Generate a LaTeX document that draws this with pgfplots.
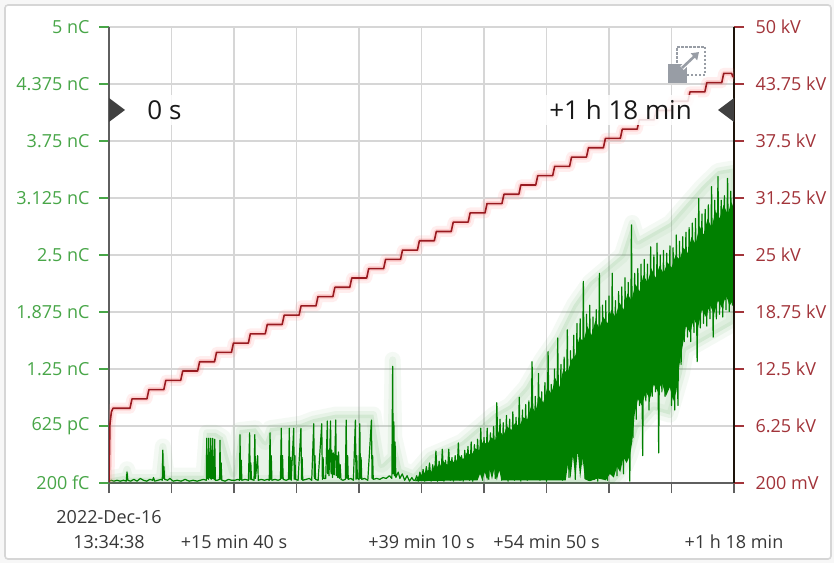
\documentclass[border=0pt]{standalone}
\usepackage{pgfplots}
\pgfplotsset{compat=1.18}
\usepackage{pgfplotstable}
\usetikzlibrary{arrows.meta}
\usepackage{fontspec}
\setmainfont{Open Sans}

\definecolor{qgreen}{RGB}{0,128,0}
\definecolor{qlabel}{RGB}{72,166,72}
\definecolor{vred}{RGB}{152,26,32}
\definecolor{vlabel}{RGB}{162,52,58}
\definecolor{gridgray}{RGB}{214,214,214}
\definecolor{axisgray}{RGB}{95,95,95}
\definecolor{icongray}{RGB}{152,157,165}

% apparent charge (nC) against time since start (min)
\pgfplotstableread{
t q
0.00 0.02
0.30 0.03
0.60 0.02
1.00 0.03
1.40 0.02
1.80 0.03
2.15 0.02
2.25 0.12
2.35 0.03
2.70 0.02
3.10 0.04
3.50 0.02
3.90 0.05
4.30 0.03
4.70 0.02
5.10 0.04
5.45 0.03
5.55 0.06
5.70 0.02
6.10 0.03
6.50 0.04
6.65 0.03
6.72 0.36
6.78 0.05
6.85 0.18
6.95 0.04
7.30 0.03
7.60 0.05
8.00 0.02
8.50 0.03
9.00 0.02
9.50 0.04
10.00 0.02
10.50 0.03
11.00 0.02
11.40 0.03
11.80 0.04
12.15 0.03
12.20 0.49
12.27 0.05
12.33 0.25
12.40 0.04
12.45 0.49
12.52 0.06
12.58 0.25
12.64 0.05
12.70 0.49
12.76 0.04
12.82 0.26
12.88 0.05
12.94 0.49
13.00 0.05
13.06 0.25
13.12 0.04
13.20 0.48
13.27 0.03
13.50 0.03
13.80 0.04
13.85 0.47
13.92 0.04
14.00 0.22
14.08 0.03
14.50 0.02
14.90 0.04
15.30 0.03
15.70 0.03
16.10 0.04
16.30 0.03
16.35 0.53
16.42 0.04
16.50 0.25
16.58 0.03
17.00 0.04
17.40 0.03
17.55 0.55
17.62 0.04
17.70 0.22
17.78 0.04
18.10 0.03
18.20 0.53
18.28 0.05
18.55 0.30
18.63 0.03
19.00 0.04
19.40 0.03
19.80 0.04
20.00 0.03
20.10 0.55
20.18 0.04
20.25 0.30
20.33 0.03
20.70 0.04
21.10 0.03
21.40 0.04
21.50 0.60
21.58 0.05
21.66 0.30
21.74 0.04
22.10 0.03
22.40 0.04
22.50 0.60
22.58 0.04
22.66 0.28
22.74 0.03
23.05 0.60
23.12 0.04
23.20 0.30
23.28 0.04
23.60 0.03
23.95 0.60
24.03 0.04
24.10 0.28
24.18 0.03
24.60 0.04
25.00 0.05
25.30 0.03
25.55 0.65
25.63 0.05
25.70 0.30
25.78 0.04
26.10 0.03
26.55 0.65
26.63 0.04
26.72 0.28
26.80 0.05
27.05 0.05
27.15 0.36
27.25 0.68
27.30 0.10
27.38 0.36
27.45 0.08
27.55 0.34
27.65 0.68
27.72 0.10
27.80 0.36
27.90 0.06
28.00 0.33
28.10 0.09
28.20 0.35
28.30 0.69
28.37 0.08
28.45 0.30
28.55 0.06
28.65 0.34
28.75 0.05
28.85 0.20
28.95 0.04
29.20 0.03
29.50 0.04
29.60 0.69
29.68 0.05
29.78 0.30
29.86 0.04
30.20 0.05
30.50 0.03
30.75 0.69
30.83 0.04
30.92 0.30
31.00 0.05
31.20 0.04
31.30 0.65
31.38 0.05
31.46 0.28
31.54 0.04
31.90 0.05
32.30 0.03
32.75 0.69
32.83 0.05
32.90 0.30
32.98 0.04
33.40 0.05
33.80 0.04
34.20 0.06
34.60 0.05
35.00 0.08
35.30 0.05
35.40 1.28
35.47 0.10
35.55 0.67
35.63 0.08
35.70 0.45
35.80 0.06
36.10 0.12
36.30 0.05
36.60 0.10
36.90 0.03
37.20 0.08
37.50 0.02
37.80 0.06
38.00 0.03
38.2 0.03
38.4 0.08
38.6 0.02
38.8 0.12
39.0 0.03
39.2 0.15
39.4 0.02
39.6 0.18
39.8 0.03
40.0 0.22
40.2 0.02
40.4 0.20
40.6 0.04
40.8 0.35
41.0 0.02
41.2 0.24
41.4 0.03
41.6 0.37
41.8 0.02
42.0 0.25
42.2 0.04
42.4 0.37
42.6 0.03
42.8 0.28
43.0 0.02
43.2 0.30
43.4 0.05
43.6 0.44
43.8 0.03
44.0 0.30
44.2 0.02
44.4 0.36
44.6 0.04
44.8 0.40
45.0 0.03
45.2 0.45
45.4 0.02
45.6 0.42
45.8 0.06
46.0 0.48
46.2 0.14
46.4 0.60
46.6 0.03
46.8 0.50
47.0 0.16
47.2 0.60
47.4 0.04
47.6 0.55
47.8 0.17
48.0 0.62
48.2 0.05
48.4 0.88
48.6 0.12
48.8 0.70
49.0 0.03
49.2 0.66
49.4 0.04
49.6 0.74
49.8 0.02
50.0 0.70
50.2 0.05
50.4 0.78
50.6 0.03
50.8 0.72
51.0 0.06
51.2 0.94
51.4 0.02
51.6 0.80
51.8 0.04
52.0 0.86
52.2 0.03
52.4 0.90
52.6 0.05
52.8 1.33
53.0 0.04
53.2 0.95
53.4 0.08
53.6 1.20
53.8 0.03
54.0 1.00
54.2 0.06
54.4 1.10
54.6 0.02
54.8 1.44
55.0 0.05
55.2 1.08
55.4 0.10
55.6 1.25
55.8 0.04
56.0 1.59
56.2 0.08
56.4 1.30
56.6 0.03
56.8 1.38
57.0 0.22
57.2 1.68
57.4 0.06
57.6 1.45
57.8 0.30
58.0 1.62
58.2 0.04
58.4 1.75
58.6 0.35
58.8 1.80
59.0 0.20
59.2 2.21
59.4 0.05
59.6 1.85
59.8 0.03
60.0 1.95
60.2 0.10
60.4 1.82
60.6 0.04
60.8 1.90
61.0 0.02
61.2 2.30
61.4 0.08
61.6 1.95
61.8 0.12
62.0 2.00
62.2 0.03
62.4 2.05
62.6 0.15
62.8 2.30
63.0 0.20
63.2 2.00
63.4 0.08
63.6 2.10
63.8 0.25
64.0 2.15
64.2 0.10
64.4 2.25
64.6 0.35
64.8 2.20
65.0 0.02
65.2 2.83
65.4 0.50
65.6 2.30
65.8 0.70
66.0 2.35
66.2 0.85
66.4 2.40
66.6 0.30
66.8 2.45
67.0 0.90
67.2 2.40
67.4 0.80
67.6 2.59
67.8 0.95
68.0 2.50
68.2 1.00
68.4 2.63
68.6 0.33
68.8 2.50
69.0 1.00
69.2 2.55
69.4 0.95
69.6 2.52
69.8 1.05
70.0 2.60
70.2 0.85
70.4 2.58
70.6 0.80
70.8 2.72
71.0 0.85
71.2 2.65
71.4 1.30
71.6 2.70
71.8 1.55
72.0 2.75
72.2 1.60
72.4 2.80
72.6 1.55
72.8 2.85
73.0 1.65
73.2 2.90
73.4 1.33
73.6 3.12
73.8 1.70
74.0 2.95
74.2 1.75
74.4 3.00
74.6 1.72
74.8 3.05
75.0 1.80
75.2 3.25
75.4 1.60
75.6 3.10
75.8 1.80
76.0 3.36
76.2 1.85
76.4 3.10
76.6 1.82
76.8 3.15
77.0 1.90
77.2 3.34
77.4 1.88
77.6 3.20
77.8 1.95
78.0 3.25
}\chargetrace

% dense part of the charge trace: upper edge, then lower edge back
\pgfplotstableread{
t q
38.2 0.02
38.7 0.08
39.2 0.10
39.7 0.14
40.2 0.12
40.7 0.20
41.2 0.17
41.7 0.24
42.2 0.20
42.7 0.25
43.2 0.22
43.7 0.30
44.2 0.26
44.7 0.34
45.2 0.30
45.7 0.38
46.2 0.36
46.7 0.46
47.2 0.42
47.7 0.50
48.2 0.47
48.7 0.58
49.2 0.52
49.7 0.62
50.2 0.58
50.7 0.66
51.2 0.62
51.7 0.72
52.2 0.70
52.7 0.85
53.2 0.78
53.7 0.95
54.2 0.88
54.7 1.05
55.2 0.98
55.7 1.15
56.2 1.05
56.7 1.25
57.2 1.20
57.7 1.35
58.2 1.40
58.7 1.60
59.2 1.55
59.7 1.72
60.2 1.62
60.7 1.78
61.2 1.70
61.7 1.82
62.2 1.75
62.7 1.90
63.2 1.82
63.7 1.98
64.2 1.90
64.7 2.08
65.2 2.00
65.7 2.18
66.2 2.10
66.7 2.28
67.2 2.20
67.7 2.35
68.2 2.25
68.7 2.38
69.2 2.30
69.7 2.42
70.2 2.36
70.7 2.50
71.2 2.45
71.7 2.58
72.2 2.52
72.7 2.70
73.2 2.62
73.7 2.82
74.2 2.72
74.7 2.90
75.2 2.80
75.7 2.98
76.2 2.90
76.7 3.05
77.2 2.95
77.7 3.08
78.0 3.00
78.0 2.02
77.5 1.95
77.0 2.05
76.5 1.92
76.0 2.00
75.5 1.85
75.0 1.95
74.5 1.82
74.0 1.90
73.5 1.70
73.0 1.80
72.5 1.65
72.0 1.72
71.5 1.45
71.2 1.30
70.8 1.00
70.4 0.90
70.0 1.05
69.5 0.95
69.0 1.10
68.5 1.00
68.0 1.08
67.5 0.92
67.0 1.00
66.5 0.85
66.0 0.92
65.6 0.75
65.3 0.45
65.0 0.30
64.6 0.22
64.2 0.28
63.8 0.12
63.4 0.18
63.0 0.06
62.5 0.10
62.0 0.03
61.0 0.05
60.0 0.02
59.4 0.04
59.1 0.28
58.8 0.05
58.5 0.35
58.2 0.06
57.9 0.30
57.6 0.05
57.3 0.22
57.0 0.03
49.0 0.03
48.7 0.14
48.4 0.03
48.1 0.16
47.8 0.04
47.5 0.15
47.2 0.03
46.9 0.12
46.6 0.03
46.3 0.10
46.0 0.03
38.2 0.02
}\chargecore

% region reached by the charge trace
\pgfplotstableread{
t q
0.0 0.00
0.0 0.05
2.0 0.08
2.25 0.15
2.6 0.06
6.3 0.06
6.72 0.40
7.2 0.08
11.8 0.08
12.2 0.55
13.3 0.55
14.2 0.50
15.5 0.10
16.3 0.58
18.3 0.60
19.5 0.45
20.1 0.60
24.0 0.65
25.5 0.70
28.3 0.75
33.0 0.75
34.0 0.20
35.2 0.30
35.4 1.35
35.6 0.50
36.5 0.15
38.0 0.10
40.0 0.30
44.0 0.45
48.0 0.75
50.0 0.85
52.0 1.05
54.0 1.35
56.0 1.60
58.0 1.95
60.0 2.20
62.0 2.35
64.0 2.50
65.3 2.85
66.0 2.65
68.0 2.75
70.0 2.85
72.0 3.05
74.0 3.25
76.0 3.42
78.0 3.45
78.0 1.75
76.0 1.65
74.0 1.55
72.0 1.45
71.5 1.20
70.0 0.75
68.0 0.80
66.0 0.60
65.0 0.30
64.0 0.10
63.0 0.00
0.0 0.00
}\chargereach

% test voltage (kV): stepped ramp
\pgfplotstableread{
t v
0.00 0.10
0.12 6.50
0.30 7.80
0.50 8.20
2.62 8.20
2.87 9.22
4.73 9.22
4.98 10.24
6.84 10.24
7.09 11.26
8.95 11.26
9.20 12.28
11.06 12.28
11.31 13.30
13.17 13.30
13.42 14.32
15.28 14.32
15.53 15.34
17.39 15.34
17.64 16.36
19.50 16.36
19.75 17.38
21.61 17.38
21.86 18.40
23.72 18.40
23.97 19.42
25.83 19.42
26.08 20.44
27.94 20.44
28.19 21.46
30.05 21.46
30.30 22.48
32.16 22.48
32.41 23.50
34.27 23.50
34.52 24.52
36.38 24.52
36.63 25.54
38.49 25.54
38.74 26.56
40.60 26.56
40.85 27.58
42.71 27.58
42.96 28.60
44.82 28.60
45.07 29.62
46.93 29.62
47.18 30.64
49.04 30.64
49.29 31.66
51.15 31.66
51.40 32.68
53.26 32.68
53.51 33.70
55.37 33.70
55.62 34.72
57.48 34.72
57.73 35.74
59.59 35.74
59.84 36.76
61.70 36.76
61.95 37.78
63.81 37.78
64.06 38.80
65.92 38.80
66.17 39.82
68.03 39.82
68.28 40.84
70.14 40.84
70.39 41.86
72.25 41.86
72.50 42.88
74.36 42.88
74.61 43.90
76.47 43.90
76.72 44.92
77.70 44.92
77.85 44.55
78.00 44.60
}\voltagetrace

\pgfplotsset{
  frame/.style={
    at={(109pt,80pt)}, anchor=south west,
    scale only axis, width=625pt, height=456pt,
    xmin=0, xmax=78,
    tick align=outside, major tick length=10pt,
    tick label style={font=\fontsize{18}{25}\selectfont},
    clip=true,
  }
}

\begin{document}
\begin{tikzpicture}[x=1pt,y=1pt]
\path[use as bounding box, fill=gray!6] (0,0) rectangle (834,563);
\draw[gray!32, line width=1.6pt, fill=white, rounded corners=3pt] (5,4) rectangle (831,558);

% charge axis (left)
\begin{axis}[frame,
  ymin=0, ymax=5,
  axis x line*=bottom, axis y line*=left,
  x axis line style={axisgray, line width=1.8pt},
  y axis line style={axisgray, line width=1.8pt},
  grid=major, major grid style={gridgray, line width=1.3pt},
  xtick={0,7.8,15.6,23.4,31.2,39,46.8,54.6,62.4,70.2,78},
  xticklabels={{2022-Dec-16\\13:34:38},{},{\phantom{2022}\\+15 min 40 s},{},{},{\phantom{2022}\\+39 min 10 s},{},{\phantom{2022}\\+54 min 50 s},{},{},{\phantom{2022}\\+1 h 18 min}},
  xticklabel style={align=center, text=black!78, yshift=-14pt},
  xtick style={axisgray, line width=1.6pt},
  ytick={0,0.625,1.25,1.875,2.5,3.125,3.75,4.375,5},
  yticklabels={200 fC,625 pC,1.25 nC,1.875 nC,2.5 nC,3.125 nC,3.75 nC,4.375 nC,5 nC},
  yticklabel style={text=qlabel, xshift=-6pt},
  ytick style={qlabel, line width=1.5pt},
]
% soft glow around the trace
\addplot[fill=qgreen, fill opacity=0.09, draw=qgreen!70, draw opacity=0.06, line width=16pt, line join=round] table[x=t, y=q] {\chargereach};
\addplot[draw=qgreen!70, draw opacity=0.08, line width=7pt, line join=round] table[x=t, y=q] {\chargereach};
\addplot[fill=qgreen, draw=none] table[x=t, y=q] {\chargecore};
\addplot[qgreen, line width=1.2pt, line join=round] table[x=t, y=q] {\chargetrace};
\end{axis}

% voltage axis (right)
\begin{axis}[frame,
  ymin=0, ymax=50,
  axis x line=none, axis y line*=right,
  y axis line style={black!85!brown, line width=1.8pt},
  ytick={0,6.25,12.5,18.75,25,31.25,37.5,43.75,50},
  yticklabels={200 mV,6.25 kV,12.5 kV,18.75 kV,25 kV,31.25 kV,37.5 kV,43.75 kV,50 kV},
  yticklabel style={text=vlabel, xshift=8pt},
  ytick style={vlabel, line width=1.5pt},
]
\addplot[red!45, line width=11pt, opacity=0.14, line join=round] table[x=t, y=v] {\voltagetrace};
\addplot[red!55, line width=5pt, opacity=0.22, line join=round] table[x=t, y=v] {\voltagetrace};
\addplot[vred, line width=1.6pt, line join=round] table[x=t, y=v] {\voltagetrace};
\end{axis}

% cursor labels
\node[fill=white, fill opacity=0.85, text opacity=1, inner xsep=6pt, inner ysep=5pt,
      font=\fontsize{26}{30}\selectfont, text=black!90] at (164.5,453) {0 s};
\node[fill=white, fill opacity=0.85, text opacity=1, inner xsep=6pt, inner ysep=5pt,
      font=\fontsize{26}{30}\selectfont, text=black!90] at (620.5,453) {+1 h 18 min};
\fill[black!75] (109,441) -- (125,453) -- (109,465) -- cycle;
\fill[black!75] (734,441) -- (718,453) -- (734,465) -- cycle;

% pop-out icon
\draw[icongray, line width=1.8pt, dash pattern=on 2.5pt off 1.5pt] (677,488) rectangle (705,516);
\fill[icongray] (668,480) rectangle (687,499);
\draw[white, line width=5pt] (682,495) -- (697,509);
\draw[icongray, line width=2.6pt, -{Triangle[length=7pt,width=9pt]}] (682,495) -- (699,511);
\end{tikzpicture}
\end{document}
